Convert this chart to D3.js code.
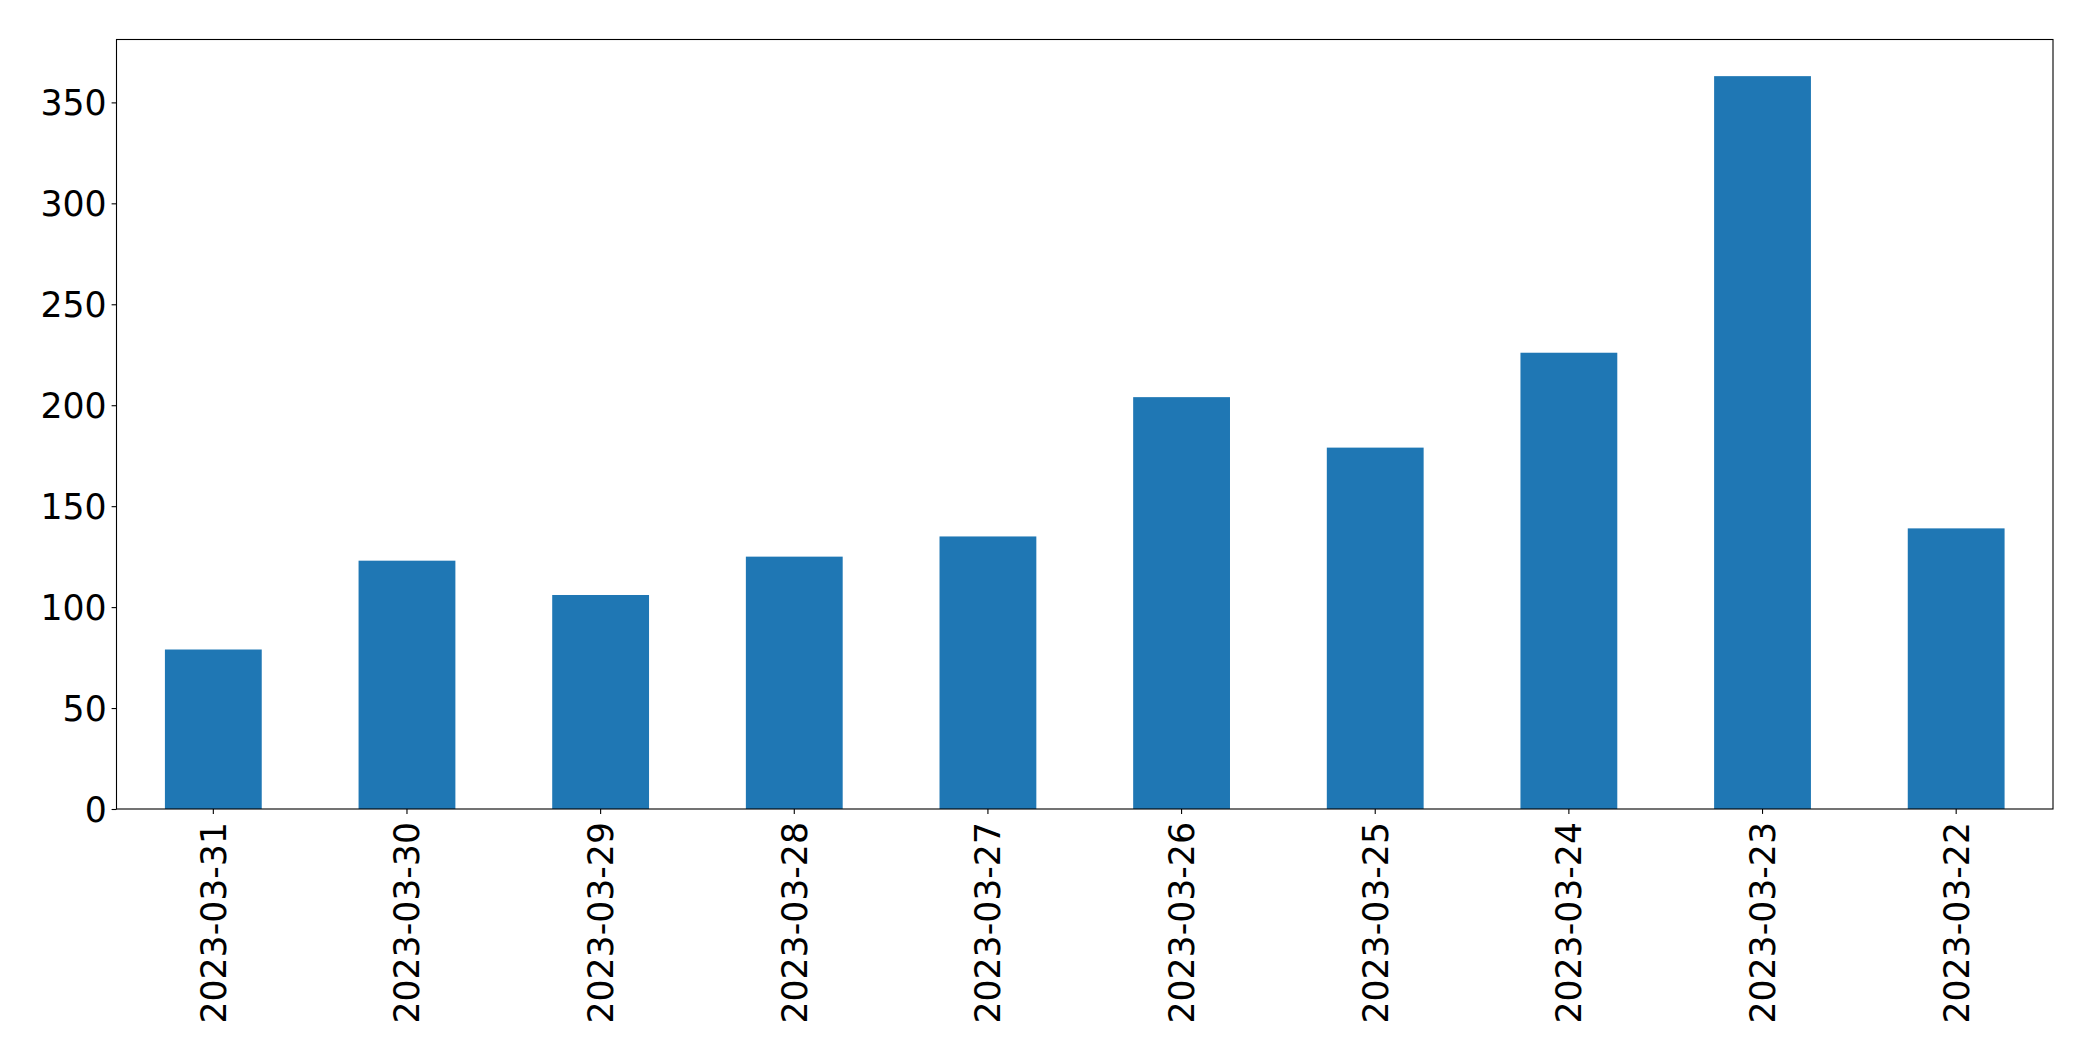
<!DOCTYPE html>
<html lang="en">
<head>
    <meta charset="UTF-8">
    <title>Daily counts</title>
    <style>
        body { margin: 0; background: #fff; }
        .tick text { font-family: "DejaVu Sans", sans-serif; font-size: 34.7px; fill: #000; }
    </style>
    <script src="https://cdn.jsdelivr.net/npm/d3@7"></script>
</head>
<body>
<svg width="2093" height="1061"></svg>

<script>

    // dates as they come out of the groupby (newest first)
    const dates = ["2023-03-31", "2023-03-30", "2023-03-29", "2023-03-28", "2023-03-27",
                   "2023-03-26", "2023-03-25", "2023-03-24", "2023-03-23", "2023-03-22"];
    const counts = [79, 123, 106, 125, 135, 204, 179, 226, 363, 139];
    const yTicks = [0, 50, 100, 150, 200, 250, 300, 350];

    let svg = d3.select("svg");

    // plot area in pixels
    const plotLeft = 116.5, plotRight = 2053, plotTop = 39.5, plotBottom = 809;

    let x = d3.scaleBand()
        .domain(dates)
        .range([plotLeft, plotRight])
        .paddingInner(0.5)
        .paddingOuter(0.25);

    let y = d3.scaleLinear()
        .domain([0, d3.max(counts) * 1.05])
        .range([plotBottom, plotTop]);

    svg.append("g").attr("class", "bars")
        .selectAll("rect")
        .data(dates)
        .enter().append("rect")
        .attr("x", function (d) { return x(d); })
        .attr("width", x.bandwidth())
        .attr("y", function (d, i) { return y(counts[i]); })
        .attr("height", function (d, i) { return plotBottom - y(counts[i]); })
        .attr("fill", "#1f77b4");

    // y axis
    let yAxis = svg.append("g")
        .attr("transform", `translate(${plotLeft},0)`)
        .call(d3.axisLeft(y).tickValues(yTicks).tickSize(4.9).tickPadding(4.9).tickFormat(d3.format("d")));
    yAxis.select(".domain").remove();
    yAxis.selectAll(".tick line").attr("stroke", "#000").attr("stroke-width", 1.1);
    yAxis.selectAll(".tick text").attr("dy", "0.36em");

    // x axis, labels turned upright
    let xAxis = svg.append("g")
        .attr("transform", `translate(0,${plotBottom})`)
        .call(d3.axisBottom(x).tickSize(4.9).tickPadding(0));
    xAxis.select(".domain").remove();
    xAxis.selectAll(".tick line").attr("stroke", "#000").attr("stroke-width", 1.1);
    xAxis.selectAll(".tick text")
        .attr("text-anchor", "end")
        .attr("x", 0).attr("y", 0)
        .attr("dy", "0.36em")
        .attr("transform", "translate(0,13) rotate(-90)");

    // frame
    svg.append("rect")
        .attr("x", plotLeft).attr("y", plotTop)
        .attr("width", plotRight - plotLeft).attr("height", plotBottom - plotTop)
        .attr("fill", "none")
        .attr("stroke", "#000")
        .attr("stroke-width", 1.1);

</script>
</body>
</html>
